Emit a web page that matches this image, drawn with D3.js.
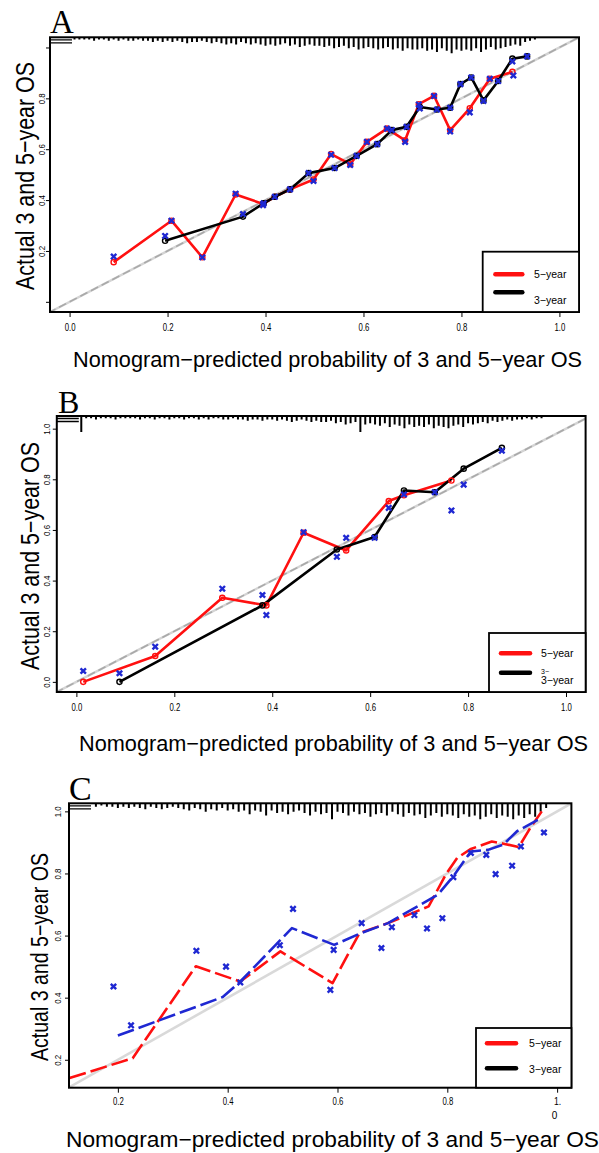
<!DOCTYPE html>
<html><head><meta charset="utf-8">
<script src="https://cdn.jsdelivr.net/npm/d3@7"></script>
<style>body{margin:0;background:#fff} svg{display:block}</style>
</head><body>
<svg id="c" width="599" height="1153"></svg>
<script>
// ---------------- DATA ----------------
const xTitle = "Nomogram\u2212predicted probability of 3 and 5\u2212year OS";
const yTitle = "Actual 3 and 5\u2212year OS";
const legendLabels = ["5\u2212year", "3\u2212year"];
const panelLetters = ["A", "B", "C"];

const xTicksAB = [0, 0.2, 0.4, 0.6, 0.8, 1.0];
const xTickLabelsAB = ["0.0", "0.2", "0.4", "0.6", "0.8", "1.0"];
const yTicksAB = [0, 0.2, 0.4, 0.6, 0.8, 1.0];
const yTickLabelsA = ["", "0.2", "0.4", "0.6", "0.8", ""];
const yTickLabelsB = ["0.0", "0.2", "0.4", "0.6", "0.8", "1.0"];
const xTicksC = [0.2, 0.4, 0.6, 0.8, 1.0];
const xTickLabelsC = ["0.2", "0.4", "0.6", "0.8", "1."];
const yTicksC = [0.2, 0.4, 0.6, 0.8, 1.0];
const yTickLabelsC = ["0.2", "0.4", "0.6", "0.8", "1.0"];

// Panel A
const A5x = [0.090,0.208,0.271,0.339,0.395,0.419,0.450,0.498,0.534,0.573,0.607,0.648,0.685,0.713,0.744,0.777,0.817,0.858,0.904];
const A5y = [0.156,0.319,0.175,0.422,0.385,0.413,0.442,0.481,0.581,0.541,0.629,0.681,0.635,0.777,0.810,0.675,0.761,0.877,0.904];
const A3x = [0.195,0.354,0.396,0.419,0.450,0.488,0.541,0.586,0.628,0.658,0.688,0.715,0.750,0.777,0.798,0.820,0.845,0.875,0.904,0.934];
const A3y = [0.240,0.335,0.387,0.413,0.442,0.506,0.526,0.574,0.620,0.675,0.688,0.766,0.756,0.763,0.856,0.882,0.792,0.868,0.956,0.965];
const ABx = [0.090,0.208,0.271,0.339,0.395,0.419,0.450,0.498,0.534,0.573,0.607,0.648,0.685,0.713,0.744,0.777,0.817,0.858,0.906,
             0.195,0.354,0.396,0.488,0.541,0.586,0.628,0.658,0.688,0.715,0.750,0.777,0.798,0.820,0.845,0.875,0.904,0.934];
const ABy = [0.178,0.319,0.175,0.425,0.380,0.413,0.442,0.475,0.578,0.538,0.629,0.681,0.629,0.776,0.809,0.670,0.745,0.877,0.890,
             0.259,0.345,0.387,0.506,0.526,0.574,0.620,0.675,0.688,0.760,0.756,0.763,0.856,0.882,0.790,0.868,0.945,0.965];
const histA = [1,1,1,1,2,1,1,2,1,2, 1,2,2,1,2,2,3,2,3,2, 3,2,3,4,3,3,2,3,4,3, 4,5,4,5,3,4,5,4,5,6,
               5,6,5,4,6,5,7,6,5,6, 6,7,6,8,7,6,8,7,9,8, 7,8,9,8,7,9,8,10,8,9, 9,8,10,9,11,8,10,12,9,10,
               9,10,8,11,9,7,9,8,7,6, 5,6,3,2,1];

// Panel B
const B5x = [0.014,0.161,0.298,0.388,0.464,0.551,0.638,0.669,0.766];
const B5y = [0.000,0.102,0.332,0.302,0.589,0.519,0.714,0.737,0.795];
const B3x = [0.088,0.380,0.532,0.609,0.669,0.732,0.791,0.869];
const B3y = [0.000,0.302,0.523,0.572,0.756,0.749,0.842,0.924];
const BBx = [0.014,0.088,0.161,0.298,0.380,0.388,0.464,0.532,0.551,0.609,0.638,0.669,0.732,0.766,0.791,0.869];
const BBy = [0.043,0.034,0.139,0.368,0.343,0.264,0.591,0.494,0.569,0.569,0.687,0.740,0.749,0.677,0.779,0.913];
const histB = [12,1,1,2,1,1,1,2,1,1, 1,1,2,1,1,2,1,1,2,1, 1,2,1,1,2,1,2,1,1,2, 2,1,2,2,3,2,2,3,2,2,
               3,2,3,4,3,2,3,4,3,4, 4,3,5,4,6,5,4,12,6,5, 6,7,5,8,6,7,9,6,8,7, 8,6,9,7,8,9,7,6,8,5,
               6,5,4,5,3,4,3,2,3,2, 2,1,2,1,1];

// Panel C
const C5x = [0.112,0.227,0.342,0.423,0.496,0.591,0.640,0.692,0.766,0.797,0.818,0.843,0.881,0.902,0.930,0.951,0.972];
const C5y = [0.141,0.205,0.501,0.452,0.549,0.447,0.608,0.640,0.694,0.796,0.850,0.879,0.903,0.896,0.885,0.946,1.000];
const C3x = [0.200,0.391,0.423,0.517,0.594,0.643,0.692,0.783,0.811,0.843,0.874,0.902,0.927,0.965];
const C3y = [0.278,0.402,0.452,0.624,0.570,0.608,0.640,0.732,0.791,0.871,0.876,0.893,0.936,0.973];
const CBx = [0.192,0.224,0.343,0.397,0.423,0.495,0.519,0.587,0.593,0.644,0.680,0.699,0.740,0.763,0.791,0.811,0.843,0.871,0.888,0.918,0.934,0.976];
const CBy = [0.436,0.311,0.551,0.500,0.449,0.569,0.686,0.425,0.554,0.640,0.560,0.627,0.666,0.623,0.656,0.788,0.866,0.860,0.798,0.825,0.887,0.932];
const histC = [2,1,2,2,3, 2,3,2,3,4,2,3,4,3,2, 3,4,5,3,4,6,4,5,3,5, 4,6,5,8,5,6,9,5,7,6,
               8,6,5,7,9,6,8,7,12,6, 7,9,6,8,7,10,8,7,9,6, 8,10,7,9,8,11,9,7,10,8,
               9,11,8,10,9,12,10,8,11,9, 10,12,9,11,8,10,6,3];

// ---------------- DRAWING ----------------
const svg = d3.select('#c');
const SANS = "'Liberation Sans', Arial, Helvetica, sans-serif";
const SERIF = "'Liberation Serif', 'Times New Roman', serif";
const RED = '#ff1010', BLACK = '#000', BLUE = '#1f28d2';
const spikeLen = d3.scaleLinear().domain([0, 12]).range([0, 15]);

const panels = [
  { id:'A', letter:panelLetters[0], x0:50, x1:579, y0:37.3, y1:312, xd:[-0.04,1.04], yd:[-0.04,1.04],
    letterX:50, letterY:32.7, letterFs:33,
    xt:xTicksAB, xl:xTickLabelsAB, xlY:327, yt:yTicksAB, yl:yTickLabelsA, ylX:42,
    ytX:34, ytY:176, ytLen:228, ytFs:26,
    xtX:327.5, xtY:367, xtLen:509, xtFs:22,
    hist:histA, histStart:0.01, histStep:0.01,
    s5:[A5x,A5y], s3:[A3x,A3y], bl:[ABx,ABy], circles:true, dash:null, col3:BLACK,
    diagSolid:false,
    leg:{x0:482.7, y0:251.7, lx0:495.4, lx1:522.3, ly5:274.3, ly3:292.3, tx:534, ty5:274.5, ty3:300.7} },
  { id:'B', letter:panelLetters[1], x0:56.8, x1:585.6, y0:416, y1:692, xd:[-0.04,1.04], yd:[-0.04,1.05],
    letterX:58, letterY:413.3, letterFs:32,
    xt:xTicksAB, xl:xTickLabelsAB, xlY:707, yt:yTicksAB, yl:yTickLabelsB, ylX:47,
    ytX:38.5, ytY:556, ytLen:228, ytFs:25,
    xtX:333.5, xtY:751, xtLen:509, xtFs:22,
    hist:histB, histStart:0.01, histStep:0.01,
    s5:[B5x,B5y], s3:[B3x,B3y], bl:[BBx,BBy], circles:true, dash:null, col3:BLACK,
    diagSolid:false,
    leg:{x0:489, y0:633, lx0:501, lx1:530, ly5:653.3, ly3:672.7, tx:541, ty5:653.5, ty3:680, sup:true} },
  { id:'C', letter:panelLetters[2], x0:69, x1:571.4, y0:803.3, y1:1087.7, xd:[0.111,1.026], yd:[0.110,1.026],
    letterX:69, letterY:800, letterFs:34,
    xt:xTicksC, xl:xTickLabelsC, xlY:1102, yt:yTicksC, yl:yTickLabelsC, ylX:57.5,
    ytX:48, ytY:957, ytLen:208, ytFs:23,
    xtX:332.5, xtY:1147, xtLen:533, xtFs:22.5,
    hist:histC, histStart:0.16, histStep:0.01,
    s5:[C5x,C5y], s3:[C3x,C3y], bl:[CBx,CBy], circles:false, dash:'17,5', col3:BLUE,
    diagSolid:true, extraZero:true,
    leg:{x0:476, y0:1028, lx0:487, lx1:516, ly5:1043.3, ly3:1068.3, tx:529, ty5:1043.5, ty3:1069.5} }
];

function drawPanel(p) {
  const x = d3.scaleLinear().domain(p.xd).range([p.x0, p.x1]);
  const y = d3.scaleLinear().domain(p.yd).range([p.y1, p.y0]);
  const g = svg.append('g');
  const clipId = 'clip' + p.id;
  svg.append('defs').append('clipPath').attr('id', clipId).append('rect')
    .attr('x', p.x0).attr('y', p.y0).attr('width', p.x1 - p.x0).attr('height', p.y1 - p.y0);
  const inner = g.append('g').attr('clip-path', `url(#${clipId})`);

  // ideal diagonal
  const diag = [[-1, -1], [2, 2]];
  if (p.diagSolid) {
    inner.append('line').attr('x1', x(diag[0][0])).attr('y1', y(diag[0][1])).attr('x2', x(diag[1][0])).attr('y2', y(diag[1][1]))
      .attr('stroke', '#d9d9d9').attr('stroke-width', 2.6);
  } else {
    inner.append('line').attr('x1', x(diag[0][0])).attr('y1', y(diag[0][1])).attr('x2', x(diag[1][0])).attr('y2', y(diag[1][1]))
      .attr('stroke', '#d4d4d4').attr('stroke-width', 2.4);
    inner.append('line').attr('x1', x(diag[0][0])).attr('y1', y(diag[0][1])).attr('x2', x(diag[1][0])).attr('y2', y(diag[1][1]))
      .attr('stroke', '#a9a9a9').attr('stroke-width', 1.6).attr('stroke-dasharray', '8,4');
  }

  // top spikes (distribution of predictions)
  inner.selectAll('line.spike').data(p.hist).join('line').attr('class', 'spike')
    .attr('x1', (d, i) => x(p.histStart + i * p.histStep)).attr('x2', (d, i) => x(p.histStart + i * p.histStep))
    .attr('y1', p.y0).attr('y2', d => p.y0 + 1 + spikeLen(d))
    .attr('stroke', '#000').attr('stroke-width', 2);
  // small double bar at top-left
  [2.5, 5.5].forEach(o => {
    inner.append('line').attr('x1', p.x0).attr('x2', p.x0 + 22).attr('y1', p.y0 + o).attr('y2', p.y0 + o)
      .attr('stroke', '#000').attr('stroke-width', 1.3);
  });

  const line = d3.line().x(d => x(d[0])).y(d => y(d[1]));
  const s5 = d3.zip(p.s5[0], p.s5[1]);
  const s3 = d3.zip(p.s3[0], p.s3[1]);
  inner.append('path').datum(s5).attr('d', line).attr('fill', 'none').attr('stroke', RED)
    .attr('stroke-width', 2.6).attr('stroke-dasharray', p.dash).attr('stroke-linejoin', 'round');
  inner.append('path').datum(s3).attr('d', line).attr('fill', 'none').attr('stroke', p.col3)
    .attr('stroke-width', 2.6).attr('stroke-dasharray', p.dash).attr('stroke-linejoin', 'round');

  if (p.circles) {
    inner.selectAll('circle.r').data(s5).join('circle').attr('class', 'r')
      .attr('cx', d => x(d[0])).attr('cy', d => y(d[1])).attr('r', 2.6)
      .attr('fill', 'none').attr('stroke', RED).attr('stroke-width', 1.4);
    inner.selectAll('circle.k').data(s3).join('circle').attr('class', 'k')
      .attr('cx', d => x(d[0])).attr('cy', d => y(d[1])).attr('r', 2.6)
      .attr('fill', 'none').attr('stroke', BLACK).attr('stroke-width', 1.4);
  }
  const bl = d3.zip(p.bl[0], p.bl[1]);
  const s = 2.7;
  inner.selectAll('path.bx').data(bl).join('path').attr('class', 'bx')
    .attr('d', d => { const cx = x(d[0]), cy = y(d[1]);
      return `M${cx - s},${cy - s}L${cx + s},${cy + s}M${cx - s},${cy + s}L${cx + s},${cy - s}`; })
    .attr('stroke', BLUE).attr('stroke-width', 2.4);

  // axes
  const xa = d3.axisBottom(x).tickValues(p.xt).tickFormat((d, i) => p.xl[i]).tickSize(5).tickSizeOuter(0);
  const gx = g.append('g').attr('transform', `translate(0,${p.y1})`).call(xa);
  gx.select('.domain').remove();
  gx.selectAll('.tick line').attr('stroke', '#000').attr('stroke-width', 1);
  gx.selectAll('.tick text').attr('y', p.xlY - p.y1).attr('dy', '0.35em')
    .attr('font-size', 10).attr('font-family', SANS).attr('fill', '#000')
    .each(function (d, i) { const t = p.xl[i]; if (t) d3.select(this).attr('textLength', t.length * 3.6).attr('lengthAdjust', 'spacingAndGlyphs'); });
  if (p.extraZero) {
    g.append('text').attr('x', x(1.0) - 2.5).attr('y', p.xlY + 13).attr('dy', '0.35em').attr('text-anchor', 'middle')
      .attr('font-size', 10).attr('font-family', SANS).text('0');
  }

  const ya = d3.axisLeft(y).tickValues(p.yt).tickFormat((d, i) => p.yl[i]).tickSize(4).tickSizeOuter(0);
  const gy = g.append('g').attr('transform', `translate(${p.x0},0)`).call(ya);
  gy.select('.domain').remove();
  gy.selectAll('.tick line').attr('stroke', '#000').attr('stroke-width', 1);
  gy.selectAll('.tick text').attr('x', 0).attr('y', 0).attr('dy', '0.35em')
    .attr('transform', `translate(${p.ylX - p.x0},0) rotate(-90)`).attr('text-anchor', 'middle')
    .attr('font-size', 9.5).attr('font-family', SANS).attr('fill', '#000')
    .each(function (d, i) { const t = p.yl[i]; if (t) d3.select(this).attr('textLength', 11).attr('lengthAdjust', 'spacingAndGlyphs'); });

  // box
  g.append('rect').attr('x', p.x0).attr('y', p.y0).attr('width', p.x1 - p.x0).attr('height', p.y1 - p.y0)
    .attr('fill', 'none').attr('stroke', '#000').attr('stroke-width', 2);

  // legend
  const L = p.leg;
  g.append('rect').attr('x', L.x0).attr('y', L.y0).attr('width', p.x1 - L.x0).attr('height', p.y1 - L.y0)
    .attr('fill', '#fff').attr('stroke', '#000').attr('stroke-width', 1.8);
  g.append('line').attr('x1', L.lx0).attr('x2', L.lx1).attr('y1', L.ly5).attr('y2', L.ly5)
    .attr('stroke', RED).attr('stroke-width', 4.5).attr('stroke-linecap', 'round');
  g.append('line').attr('x1', L.lx0).attr('x2', L.lx1).attr('y1', L.ly3).attr('y2', L.ly3)
    .attr('stroke', BLACK).attr('stroke-width', 4.5).attr('stroke-linecap', 'round');
  g.append('text').attr('x', L.tx).attr('y', L.ty5).attr('dy', '0.35em').attr('font-size', 10.5)
    .attr('font-family', SANS).text(legendLabels[0]);
  g.append('text').attr('x', L.tx).attr('y', L.ty3).attr('dy', '0.35em').attr('font-size', 10.5)
    .attr('font-family', SANS).text(legendLabels[1]);
  if (L.sup) {
    g.append('text').attr('x', L.tx).attr('y', L.ty3 - 8).attr('dy', '0.35em').attr('font-size', 7)
      .attr('font-family', SANS).text('3\u2212');
  }

  // panel letter
  svg.append('text').attr('x', p.letterX).attr('y', p.letterY).attr('font-size', p.letterFs)
    .attr('font-family', SERIF).text(p.letter);

  // axis titles
  svg.append('text').attr('x', p.xtX).attr('y', p.xtY).attr('text-anchor', 'middle')
    .attr('font-size', p.xtFs).attr('font-family', SANS)
    .attr('textLength', p.xtLen).attr('lengthAdjust', 'spacingAndGlyphs').text(xTitle);
  svg.append('text').attr('transform', `translate(${p.ytX},${p.ytY}) rotate(-90)`).attr('text-anchor', 'middle')
    .attr('font-size', p.ytFs).attr('font-family', SANS)
    .attr('textLength', p.ytLen).attr('lengthAdjust', 'spacingAndGlyphs').text(yTitle);
}

panels.forEach(drawPanel);
</script>
</body></html>
